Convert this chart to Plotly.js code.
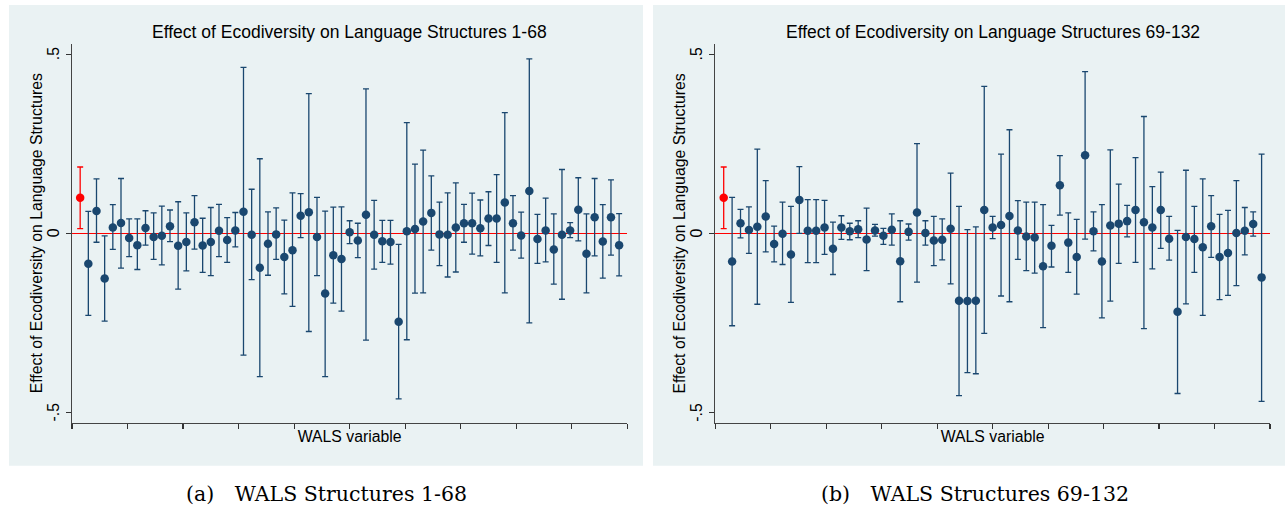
<!DOCTYPE html>
<html>
<head>
<meta charset="utf-8">
<script src="https://cdn.plot.ly/plotly-3.0.1.min.js"></script>
<style>html,body{margin:0;padding:0;background:#fff;}#chart{width:1285px;height:514px;}</style>
</head>
<body>
<div id="chart"></div>
<script>
// ---- data ----
const overallEst = 0.099;
const overallHi = 0.185;
const overallLo = 0.013;

// Panel (a): WALS structures 1-68
const est1 = [-0.085, 0.062, -0.126, 0.016, 0.029, -0.013, -0.033, 0.015, -0.010, -0.007,
  0.020, -0.035, -0.024, 0.031, -0.034, -0.024, 0.007, -0.019, 0.008, 0.060,
  -0.004, -0.096, -0.029, -0.003, -0.066, -0.047, 0.049, 0.059, -0.010, -0.168,
  -0.061, -0.072, 0.003, -0.020, 0.052, -0.004, -0.022, -0.024, -0.247, 0.006,
  0.012, 0.033, 0.057, -0.003, -0.004, 0.016, 0.028, 0.028, 0.014, 0.041,
  0.041, 0.086, 0.028, -0.006, 0.118, -0.016, 0.008, -0.045, -0.004, 0.008,
  0.066, -0.057, 0.045, -0.023, 0.045, -0.033];
const hi1 = [0.061, 0.152, -0.007, 0.080, 0.153, 0.040, 0.040, 0.063, 0.057, 0.076,
  0.065, 0.088, 0.057, 0.105, 0.042, 0.072, 0.081, 0.044, 0.058, 0.463,
  0.123, 0.208, 0.060, 0.071, 0.037, 0.113, 0.111, 0.390, 0.100, 0.062,
  0.073, 0.074, 0.035, 0.028, 0.403, 0.092, 0.036, 0.036, -0.031, 0.309,
  0.193, 0.232, 0.160, 0.087, 0.113, 0.141, 0.081, 0.112, 0.093, 0.116,
  0.164, 0.337, 0.105, 0.059, 0.487, 0.053, 0.098, 0.054, 0.178, 0.030,
  0.155, 0.054, 0.153, 0.080, 0.149, 0.055];
const lo1 = [-0.229, -0.025, -0.245, -0.045, -0.097, -0.065, -0.101, -0.033, -0.073, -0.088,
  -0.023, -0.156, -0.105, -0.044, -0.109, -0.118, -0.065, -0.081, -0.038, -0.340,
  -0.129, -0.400, -0.117, -0.073, -0.169, -0.204, -0.012, -0.274, -0.118, -0.400,
  -0.195, -0.217, -0.029, -0.068, -0.298, -0.100, -0.081, -0.086, -0.462, -0.297,
  -0.167, -0.166, -0.047, -0.090, -0.122, -0.108, -0.025, -0.058, -0.063, -0.034,
  -0.081, -0.166, -0.047, -0.069, -0.250, -0.084, -0.080, -0.142, -0.184, -0.012,
  -0.021, -0.166, -0.063, -0.125, -0.061, -0.119];

// Panel (b): WALS structures 69-132
const est2 = [-0.079, 0.028, 0.009, 0.018, 0.047, -0.030, -0.001, -0.059, 0.093, 0.007,
  0.007, 0.016, -0.043, 0.016, 0.006, 0.011, -0.017, 0.008, -0.007, 0.010,
  -0.078, 0.004, 0.058, 0.001, -0.020, -0.018, 0.013, -0.188, -0.189, -0.188,
  0.065, 0.016, 0.023, 0.048, 0.008, -0.009, -0.012, -0.092, -0.035, 0.134,
  -0.026, -0.066, 0.218, 0.006, -0.079, 0.022, 0.027, 0.034, 0.065, 0.031,
  0.016, 0.065, -0.015, -0.219, -0.010, -0.016, -0.039, 0.020, -0.066, -0.055,
  0.001, 0.007, 0.026, -0.123];
const hi2 = [0.100, 0.067, 0.074, 0.235, 0.147, 0.020, 0.087, 0.075, 0.186, 0.094,
  0.094, 0.092, 0.031, 0.049, 0.028, 0.035, 0.070, 0.025, 0.014, 0.054,
  0.035, 0.026, 0.250, 0.035, 0.047, 0.040, 0.168, 0.075, 0.010, 0.018,
  0.410, 0.047, 0.221, 0.289, 0.091, 0.087, 0.087, 0.080, 0.022, 0.217,
  0.057, 0.039, 0.451, 0.060, 0.080, 0.233, 0.137, 0.078, 0.211, 0.326,
  0.130, 0.171, 0.047, 0.008, 0.176, 0.075, 0.152, 0.105, 0.053, 0.064,
  0.147, 0.072, 0.060, 0.221];
const lo2 = [-0.258, -0.013, -0.056, -0.198, -0.052, -0.080, -0.087, -0.193, 0.000, -0.082,
  -0.082, -0.059, -0.115, -0.017, -0.018, -0.012, -0.104, -0.008, -0.031, -0.033,
  -0.191, -0.019, -0.136, -0.033, -0.090, -0.074, -0.141, -0.453, -0.389, -0.392,
  -0.279, -0.015, -0.175, -0.191, -0.073, -0.104, -0.111, -0.263, -0.094, 0.051,
  -0.109, -0.170, -0.016, -0.049, -0.236, -0.189, -0.084, -0.010, -0.081, -0.266,
  -0.099, -0.042, -0.075, -0.447, -0.197, -0.109, -0.229, -0.067, -0.185, -0.173,
  -0.146, -0.060, -0.008, -0.469];

const yTickVals = [-0.5, 0, 0.5];
const yTickText = ['-.5', '0', '.5'];
const titles = ['Effect of Ecodiversity on Language Structures 1-68',
                'Effect of Ecodiversity on Language Structures 69-132'];
const captions = ['(a)\u2003WALS Structures 1-68', '(b)\u2003WALS Structures 69-132'];
const yTitle = 'Effect of Ecodiversity on Language Structures';
const xTitle = 'WALS variable';

// ---- styling ----
const W = 1285, H = 514;
const NAVY = '#1a476f', RED = '#ff0000', BG = '#eaf2f3';
const SANS = 'Liberation Sans, Arial, Helvetica, sans-serif';
const px = v => v / W;
const py = v => 1 - v / H;
const Y_DOMAIN = [py(422.5), py(44)];
const Y_RANGE = [-0.528, 0.5283];

function pointTrace(xs, est, hi, lo, color, xa, ya) {
  return {
    type: 'scatter', mode: 'markers', xaxis: xa, yaxis: ya,
    x: xs, y: est,
    marker: {color: color, size: 8.5, line: {width: 0}},
    error_y: {type: 'data', symmetric: false,
      array: est.map((v, i) => hi[i] - v),
      arrayminus: est.map((v, i) => v - lo[i]),
      color: color, thickness: 1.3, width: 3},
    hoverinfo: 'x+y', showlegend: false
  };
}

const xs1 = est1.map((_, i) => i + 2);
const xs2 = est2.map((_, i) => i + 2);

const data = [
  pointTrace(xs1, est1, hi1, lo1, NAVY, 'x', 'y'),
  pointTrace([1], [overallEst], [overallHi], [overallLo], RED, 'x', 'y'),
  pointTrace(xs2, est2, hi2, lo2, NAVY, 'x2', 'y2'),
  pointTrace([1], [overallEst], [overallHi], [overallLo], RED, 'x2', 'y2')
];

function xAxis(domain, n, anchor) {
  return {
    domain: domain, range: [0, n], anchor: anchor,
    showticklabels: false, ticks: 'outside', ticklen: 5, tickwidth: 1.2, tickcolor: '#333',
    tick0: 0, dtick: n / 10,
    showline: true, linecolor: '#444', linewidth: 1.3,
    showgrid: false, zeroline: false, fixedrange: true,
    title: {text: xTitle, font: {family: SANS, size: 15.8, color: '#000'}, standoff: 3}
  };
}
function yAxis(anchor) {
  return {
    domain: Y_DOMAIN, range: Y_RANGE, anchor: anchor,
    tickmode: 'array', tickvals: yTickVals, showticklabels: false,
    ticks: 'outside', ticklen: 5, tickwidth: 1.2, tickcolor: '#333',
    showline: true, linecolor: '#444', linewidth: 1.3,
    showgrid: true, gridcolor: BG, gridwidth: 1.2,
    zeroline: true, zerolinecolor: RED, zerolinewidth: 1.5,
    fixedrange: true
  };
}

const panels = [[9, 643, 72, 627.3], [653, 1285, 715.3, 1270]];
const yRefs = ['y', 'y2'];

const layout = {
  width: W, height: H,
  margin: {l: 0, r: 0, t: 0, b: 0, autoexpand: false},
  paper_bgcolor: '#fff', plot_bgcolor: '#fff',
  showlegend: false,
  xaxis: xAxis([px(panels[0][2]), px(panels[0][3])], 68, 'y'),
  yaxis: yAxis('x'),
  xaxis2: xAxis([px(panels[1][2]), px(panels[1][3])], 66, 'y2'),
  yaxis2: yAxis('x2'),
  shapes: panels.map(p => ({
    type: 'rect', xref: 'paper', yref: 'paper', layer: 'below',
    x0: px(p[0]), x1: px(p[1]), y0: py(465.7), y1: py(5),
    fillcolor: BG, line: {width: 0}
  })),
  annotations: [
    ...titles.map((t, i) => ({
      text: t, xref: 'paper', yref: 'paper', showarrow: false,
      x: px((panels[i][2] + panels[i][3]) / 2), y: py(32), xanchor: 'center', yanchor: 'middle',
      font: {family: SANS, size: 17.5, color: '#000'}
    })),
    // rotated y tick labels (Stata style), placed on the y scale
    ...panels.flatMap((p, i) => yTickVals.map((v, k) => ({
      text: yTickText[k], xref: 'paper', yref: yRefs[i], showarrow: false, textangle: -90,
      x: px(p[2] - 19), y: v, xanchor: 'center', yanchor: 'middle',
      font: {family: SANS, size: 15.8, color: '#000'}
    }))),
    ...panels.map(p => ({
      text: yTitle, xref: 'paper', yref: 'paper', showarrow: false, textangle: -90,
      x: px(p[2] - 36), y: py(233.3), xanchor: 'center', yanchor: 'middle',
      font: {family: SANS, size: 15.8, color: '#000'}
    })),
    ...captions.map((t, i) => ({
      text: t, xref: 'paper', yref: 'paper', showarrow: false,
      x: px([326, 975][i]), y: py(494), xanchor: 'center', yanchor: 'middle',
      font: {family: 'DejaVu Serif, Liberation Serif, serif', size: 20.5, color: '#000'}
    }))
  ]
};

Plotly.newPlot('chart', data, layout, {staticPlot: true, displayModeBar: false});
</script>
</body>
</html>
